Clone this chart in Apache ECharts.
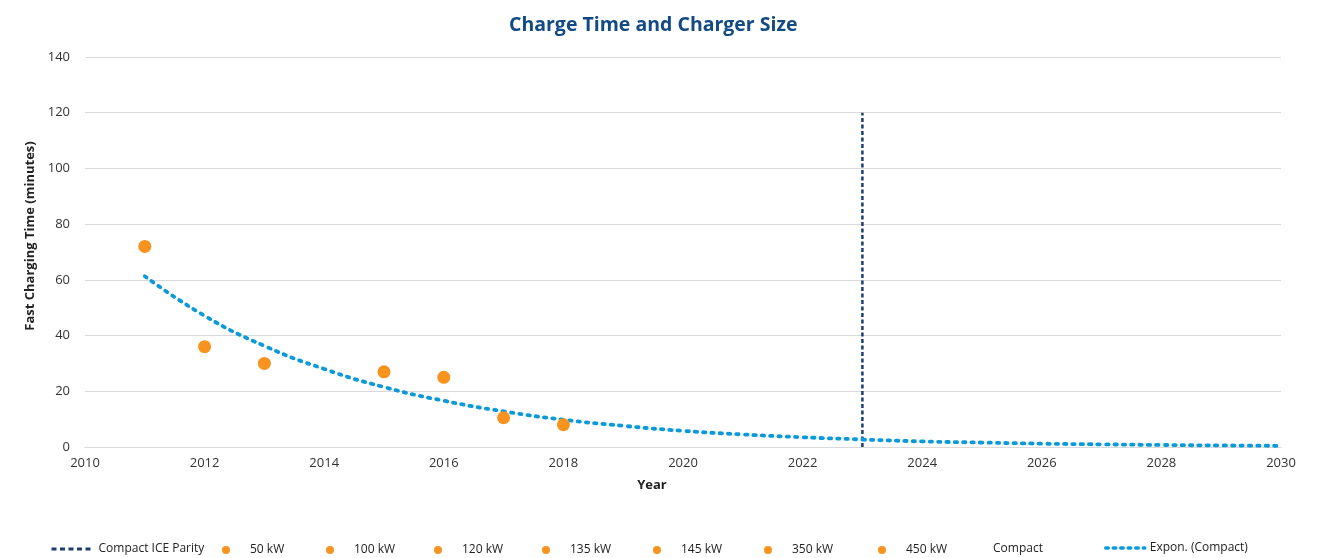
<!DOCTYPE html>
<html>
<head>
<meta charset="utf-8">
<script src="https://cdn.jsdelivr.net/npm/echarts@6/dist/echarts.min.js"></script>
<style>html,body{margin:0;padding:0;background:#fff}#c{width:1323px;height:558px}</style>
</head>
<body>
<div id="c"></div>
<script>
// ---- data ----
const kwNames = ['50 kW', '100 kW', '120 kW', '135 kW', '145 kW', '350 kW', '450 kW'];
const kwYears = [2011, 2012, 2013, 2015, 2016, 2017, 2018];
const kwMinutes = [72, 36, 30, 27, 25, 10.5, 8];
const parityYears = [2023, 2023];
const parityValues = [0, 120];
const trendYears = [2011, 2012, 2013, 2014, 2015, 2016, 2017, 2018, 2019, 2020, 2021, 2022, 2023, 2024, 2025, 2026, 2027, 2028, 2029, 2030];
const trendValues = [61.3, 47.1, 36.3, 28.0, 21.5, 16.6, 12.8, 9.8, 7.6, 5.8, 4.5, 3.5, 2.7, 2.0, 1.6, 1.2, 0.95, 0.73, 0.56, 0.43];
const yearTicks = { min: 2010, max: 2030, interval: 2 };
const minuteTicks = { min: 0, max: 140, interval: 20 };

const FONT = '"Open Sans", "Noto Sans", sans-serif';
const ORANGE = '#f7931e';
const NAVY = '#1b3f6e';
const LIGHT = '#0a9ad9';

const series = [];
series.push({
  name: 'Compact ICE Parity', type: 'line', symbol: 'none', silent: true,
  data: parityYears.map((x, i) => [x, parityValues[i]]),
  lineStyle: { color: NAVY, width: 2.5, type: [4, 2.5] },
  itemStyle: { color: NAVY }, z: 3
});
kwNames.forEach((n, i) => {
  series.push({
    name: n, type: 'scatter', symbol: 'circle', symbolSize: 13,
    data: [[kwYears[i], kwMinutes[i]]],
    itemStyle: { color: ORANGE, opacity: 1 }, z: 5
  });
});
series.push({
  name: 'Compact', type: 'scatter', symbol: 'none', symbolSize: 0,
  data: kwYears.map((x, i) => [x, kwMinutes[i]]),
  itemStyle: { color: 'transparent' }
});
series.push({
  name: 'Expon. (Compact)', type: 'line', symbol: 'none', smooth: true, silent: true,
  data: trendYears.map((x, i) => [x, trendValues[i]]),
  lineStyle: { color: LIGHT, width: 3.8, type: [2.4, 6], cap: 'round' },
  itemStyle: { color: LIGHT }, z: 4
});

const legendText = { fontFamily: FONT, fontSize: 12, color: '#222' };
// legend dot centres (px) for the kW entries, as laid out in the reference
const kwLegendX = [226, 330, 438, 546, 657, 768, 882];

const legends = [
  {
    left: 50, top: 543, padding: 0, itemWidth: 42, itemHeight: 14,
    data: [{ name: 'Compact ICE Parity', itemStyle: { opacity: 0 },
             lineStyle: { width: 3, type: [5, 3.5], cap: 'butt', color: NAVY } }],
    textStyle: legendText, selectedMode: false
  }
];
kwNames.forEach((n, i) => {
  legends.push({
    left: kwLegendX[i] - 4, top: 544, padding: 0, itemWidth: 8, itemHeight: 8,
    data: [{ name: n, icon: 'circle' }],
    textStyle: Object.assign({}, legendText, { padding: [3, 0, 0, 15] }), selectedMode: false
  });
});
legends.push({
  left: 974, top: 542, padding: 0, itemWidth: 14, itemHeight: 14,
  data: [{ name: 'Compact', icon: 'none' }], textStyle: legendText, selectedMode: false
});
legends.push({
  left: 1104, top: 542, padding: 0, itemWidth: 39, itemHeight: 14,
  data: [{ name: 'Expon. (Compact)', itemStyle: { opacity: 0 },
           lineStyle: { width: 3.5, type: [2.5, 5], cap: 'round', color: LIGHT } }],
  textStyle: legendText, selectedMode: false
});

const option = {
  animation: false,
  backgroundColor: '#fff',
  title: {
    text: 'Charge Time and Charger Size', left: 504, top: 10,
    textStyle: { fontFamily: FONT, fontSize: 19.5, fontWeight: 'bold', color: '#124a85' }
  },
  grid: { left: 85, right: 42, top: 57, bottom: 111 },
  legend: legends,
  xAxis: {
    type: 'value', min: yearTicks.min, max: yearTicks.max, interval: yearTicks.interval,
    name: 'Year', nameLocation: 'middle', nameGap: 32,
    nameTextStyle: { fontFamily: FONT, fontSize: 13, fontWeight: 'bold', color: '#222', padding: [0, 62, 0, 0] },
    axisLine: { show: true, lineStyle: { color: '#d9d9d9', width: 1 } },
    axisTick: { show: false },
    splitLine: { show: false },
    axisLabel: { fontFamily: FONT, fontSize: 13, color: '#333', margin: 10, formatter: v => String(v) }
  },
  yAxis: {
    type: 'value', min: minuteTicks.min, max: minuteTicks.max, interval: minuteTicks.interval,
    name: 'Fast Charging Time (minutes)', nameLocation: 'middle', nameGap: 42, nameRotate: 90,
    nameTextStyle: { fontFamily: FONT, fontSize: 13, fontWeight: 'bold', color: '#222', padding: [0, 0, 0, 32] },
    axisLine: { show: false }, axisTick: { show: false },
    splitLine: { show: true, lineStyle: { color: '#d9d9d9', width: 1 } },
    axisLabel: { fontFamily: FONT, fontSize: 13, color: '#333', margin: 15 }
  },
  series: series
};

const chart = echarts.init(document.getElementById('c'), null, { renderer: 'canvas' });
chart.setOption(option);
</script>
</body>
</html>
